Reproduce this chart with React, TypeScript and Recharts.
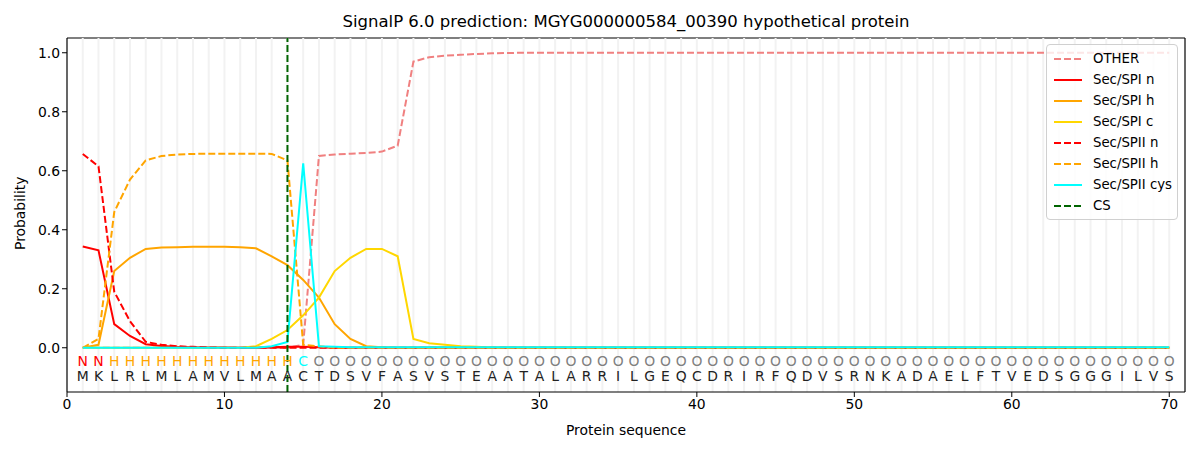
import { ComposedChart, Line, XAxis, YAxis, Scatter, ReferenceLine } from 'recharts';

const residues = 'MKLRLMLAMVLMAACTDSVFASVSTEAATALARRILGEQCDRIRFQDVSRNKADAELFTVEDSGGGILVS'.split('');
const regionLabels = ['N', 'N', 'H', 'H', 'H', 'H', 'H', 'H', 'H', 'H', 'H', 'H', 'H', 'H', 'C',
  ...Array(55).fill('O')];

// probabilities per position (1..70), tails are zero
const other = [0, 0, 0, 0, 0, 0, 0, 0, 0, 0, 0, 0, 0, 0, 0.01, 0.65, 0.655, 0.658, 0.66, 0.665,
  0.685, 0.97, 0.985, 0.99, 0.993, 0.996, 0.998, 0.999];
const spiN = [0.343, 0.33, 0.08, 0.04, 0.012, 0.006, 0.003, 0.002, 0.001, 0.001, 0, 0, 0.002, 0.003, 0.003, 0.002];
const spiH = [0, 0.01, 0.26, 0.305, 0.335, 0.34, 0.341, 0.342, 0.342, 0.342, 0.341, 0.337, 0.31, 0.28,
  0.23, 0.17, 0.08, 0.03, 0.005, 0.002];
const spiC = [0, 0, 0, 0, 0, 0, 0, 0, 0, 0, 0, 0.005, 0.03, 0.06, 0.11, 0.17, 0.26, 0.305, 0.335, 0.335,
  0.31, 0.03, 0.015, 0.01, 0.005, 0.003, 0.001];
const spiiN = [0.657, 0.615, 0.19, 0.09, 0.02, 0.01, 0.005, 0.003, 0.001];
const spiiH = [0, 0.03, 0.46, 0.57, 0.635, 0.65, 0.655, 0.657, 0.658, 0.658, 0.658, 0.658, 0.657, 0.635,
  0.01, 0.005];
const spiiCys = [0, 0, 0, 0, 0, 0, 0, 0, 0, 0, 0, 0, 0.005, 0.02, 0.625, 0.005, 0.003];
const csPos = 14;

const xTicks = [0, 10, 20, 30, 40, 50, 60, 70];
const yTicks = [0, 0.2, 0.4, 0.6, 0.8, 1.0];

const pick = (arr: number[], i: number, tail: number) => (i < arr.length ? arr[i] : tail);

const data = residues.map((aa, i) => ({
  pos: i + 1,
  aa,
  lab: regionLabels[i],
  other: pick(other, i, 1.0),
  spiN: pick(spiN, i, 0),
  spiH: pick(spiH, i, 0),
  spiC: pick(spiC, i, 0),
  spiiN: pick(spiiN, i, 0),
  spiiH: pick(spiiH, i, 0),
  spiiCys: pick(spiiCys, i, 0.002),
  aaY: -0.096,
  labY: -0.046,
}));

const labColor: Record<string, string> = { N: 'red', H: 'orange', C: 'cyan', O: 'gray' };

const legendItems = [
  { name: 'OTHER', color: '#f08080', dash: true },
  { name: 'Sec/SPI n', color: 'red', dash: false },
  { name: 'Sec/SPI h', color: 'orange', dash: false },
  { name: 'Sec/SPI c', color: 'gold', dash: false },
  { name: 'Sec/SPII n', color: 'red', dash: true },
  { name: 'Sec/SPII h', color: 'orange', dash: true },
  { name: 'Sec/SPII cys', color: 'cyan', dash: false },
  { name: 'CS', color: 'darkgreen', dash: true },
];

const font = 'DejaVu Sans, sans-serif';

function LegendBox() {
  return (
    <div style={{
      position: 'absolute', top: 44, left: 1046, width: 132, boxSizing: 'border-box',
      background: 'rgba(255,255,255,0.8)', border: '1px solid #d0d0d0', borderRadius: 4,
      padding: '3px 0 3px 7px', fontFamily: font, fontSize: 13.3, color: '#000',
    }}>
      {legendItems.map((it) => (
        <div key={it.name} style={{ display: 'flex', alignItems: 'center', height: 21 }}>
          <svg width={28} height={4} style={{ marginRight: 11 }}>
            <line x1={0} y1={2} x2={28} y2={2} stroke={it.color} strokeWidth={2}
              strokeDasharray={it.dash ? '7 3' : undefined} />
          </svg>
          <span>{it.name}</span>
        </div>
      ))}
    </div>
  );
}

export default function App() {
  return (
    <div style={{ position: 'absolute', left: 0, top: 0, width: 1200, height: 450, background: '#fff' }}>
      <div style={{
        position: 'absolute', top: 12, left: 0, width: 1252, textAlign: 'center',
        fontFamily: font, fontSize: 16.5, color: '#000',
      }}>
        SignalP 6.0 prediction: MGYG000000584_00390 hypothetical protein
      </div>
      <ComposedChart width={1200} height={450} data={data}
        margin={{ top: 38, right: 15, bottom: 0, left: 0 }}>
        <XAxis dataKey="pos" type="number" domain={[0, 71]} ticks={xTicks} allowDataOverflow
          height={58} tick={{ fill: '#000', fontSize: 13.9, fontFamily: font }}
          tickSize={5} stroke="#000" axisLine={{ stroke: '#000', strokeWidth: 1.2 }}
          label={{ value: 'Protein sequence', position: 'insideBottom', offset: 15, fill: '#000', fontSize: 13.9, fontFamily: font }} />
        <YAxis type="number" domain={[-0.15, 1.05]} ticks={yTicks} allowDataOverflow width={67}
          tickFormatter={(v: number) => v.toFixed(1)}
          tick={{ fill: '#000', fontSize: 13.9, fontFamily: font }} tickSize={5} stroke="#000"
          axisLine={{ stroke: '#000', strokeWidth: 1.2 }}
          label={{ value: 'Probability', angle: -90, position: 'insideLeft', offset: 20, dy: 35, fill: '#000', fontSize: 13.9, fontFamily: font }} />
        <ReferenceLine y={1.05} stroke="#000" strokeWidth={1.2} />
        <ReferenceLine x={71} stroke="#000" strokeWidth={1.2} />
        {data.map((d) => (
          <ReferenceLine key={'g' + d.pos} x={d.pos} stroke="#f2f2f2" strokeWidth={2} />
        ))}
        <Line dataKey="other" stroke="#f08080" strokeWidth={2} strokeDasharray="7 3" dot={false} isAnimationActive={false} />
        <Line dataKey="spiN" stroke="red" strokeWidth={2} dot={false} isAnimationActive={false} />
        <Line dataKey="spiH" stroke="orange" strokeWidth={2} dot={false} isAnimationActive={false} />
        <Line dataKey="spiC" stroke="gold" strokeWidth={2} dot={false} isAnimationActive={false} />
        <Line dataKey="spiiN" stroke="red" strokeWidth={2} strokeDasharray="7 3" dot={false} isAnimationActive={false} />
        <Line dataKey="spiiH" stroke="orange" strokeWidth={2} strokeDasharray="7 3" dot={false} isAnimationActive={false} />
        <Line dataKey="spiiCys" stroke="cyan" strokeWidth={2} dot={false} isAnimationActive={false} />
        <ReferenceLine x={csPos} stroke="darkgreen" strokeWidth={2} strokeDasharray="7 3" />
        <Scatter dataKey="labY" isAnimationActive={false}
          shape={(p: any) => (
            <text x={p.cx} y={p.cy} textAnchor="middle" dominantBaseline="central"
              fontFamily={font} fontSize={13.9} fill={labColor[p.payload.lab]}>{p.payload.lab}</text>
          )} />
        <Scatter dataKey="aaY" isAnimationActive={false}
          shape={(p: any) => (
            <text x={p.cx} y={p.cy} textAnchor="middle" dominantBaseline="central"
              fontFamily={font} fontSize={13.9} fill="#222">{p.payload.aa}</text>
          )} />
      </ComposedChart>
      <LegendBox />
    </div>
  );
}
